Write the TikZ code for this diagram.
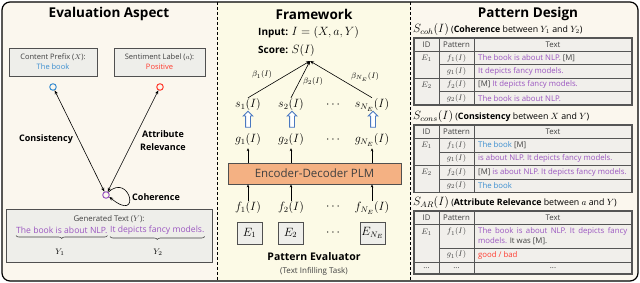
\documentclass[tikz,border=0pt]{standalone}
\usepackage{fontspec}
\setmainfont{Open Sans}
\usetikzlibrary{arrows.meta,shapes.arrows,decorations.pathreplacing}
\definecolor{panelbg}{HTML}{FBF7EE}
\definecolor{midbg}{HTML}{FCFAE6}
\definecolor{boxfill}{HTML}{EEEEEA}
\definecolor{boxline}{HTML}{505050}
\definecolor{tabfill}{HTML}{F1EFEB}
\definecolor{tabline}{HTML}{555555}
\definecolor{cpurple}{HTML}{9A55C0}
\definecolor{cblue}{HTML}{3B8ED0}
\definecolor{cred}{HTML}{FF3B2F}
\definecolor{corange}{HTML}{F4B183}
\definecolor{ctext}{HTML}{404040}
\definecolor{harrowc}{HTML}{4A78C0}
\begin{document}
\begin{tikzpicture}[x=1pt,y=-1pt,
  title/.style={font=\fontsize{13.5}{15}\selectfont\bfseries, inner sep=0},
  lbl/.style={font=\fontsize{9}{13}\selectfont\bfseries, inner sep=0, align=center},
  gbox/.style={draw=boxline, fill=boxfill, line width=0.8pt, inner sep=0, minimum width=88, minimum height=28, align=center, font=\fontsize{7.5}{10}\selectfont, text=ctext},
  dotc/.style={circle, line width=1pt, minimum size=6.5, inner sep=0},
  conn/.style={line width=0.6pt, {Stealth[length=4pt,width=3.2pt]}-{Stealth[length=4pt,width=3.2pt]}},
  oneway/.style={line width=0.6pt, -{Stealth[length=4pt,width=3.2pt]}},
  sarrow/.style={line width=0.6pt, -{Stealth[length=3pt,width=2.6pt]}},
  mathn/.style={font=\fontsize{12}{14}\selectfont, inner sep=1pt},
  betan/.style={font=\fontsize{8}{9}\selectfont, inner sep=0},
  harrow/.style={single arrow, shape border rotate=90, draw=harrowc, fill=white, line width=0.8pt, minimum height=16pt, inner sep=2pt, single arrow head extend=2.4pt, single arrow head indent=0pt},
  ebox/.style={draw=boxline, fill=boxfill, line width=0.8pt, minimum width=25, minimum height=22, inner sep=0, font=\fontsize{12}{14}\selectfont},
  cell/.style={font=\fontsize{7.8}{8}\selectfont, inner sep=0, text=ctext},
  mcell/.style={font=\fontsize{8.5}{9}\selectfont, inner sep=0, text=ctext},
  tline/.style={draw=tabline, line width=0.7pt},
  tframe/.style={draw=tabline, line width=1.1pt},
  subt/.style={anchor=west, inner sep=0, font=\fontsize{8.8}{9}\selectfont}
]
\useasboundingbox (0,0) rectangle (640,283);
% panels
\fill[panelbg, rounded corners=8] (2,2) rectangle (638,281);
\fill[midbg] (217,2) rectangle (410,281);
\draw[line width=1.2pt, rounded corners=8] (2,2) rectangle (638,281);
\draw[line width=0.9pt, dash pattern=on 3pt off 2pt] (217,2) -- (217,281);
\draw[line width=0.9pt, dash pattern=on 3pt off 2pt] (410,2) -- (410,281);

% ===== Left panel =====
\node[title] (t1) at (109,14) {Evaluation Aspect};
\node[gbox] (cp) at (53,62) {Content Prefix ($X$):\\\textcolor{cblue}{The book}};
\node[gbox, minimum width=91] (sl) at (159.5,62) {Sentiment Label ($a$):\\\textcolor{cred}{Positive}};
\node[dotc, draw=cblue] (bc) at (53,87) {};
\node[dotc, draw=cred] (rc) at (160,87) {};
\node[dotc, draw=cpurple] (pc) at (106,195) {};
\draw[conn] (pc) -- (bc);
\draw[conn] (pc) -- (rc);
\draw[oneway] (pc.50) .. controls (130,172) and (142,224) .. (pc.-30);
\node[lbl] (lc) at (46,139) {Consistency};
\node[lbl] (lar) at (163,140.5) {Attribute\\Relevance};
\node[lbl, anchor=west] (lco) at (132,197) {Coherence};
\node[draw=boxline, fill=boxfill, line width=0.8pt, minimum width=206, minimum height=53, inner sep=0] (gt) at (109,235.5) {};
\node[font=\fontsize{7.8}{9}\selectfont, text=ctext, inner sep=0] (gtl) at (109,219) {Generated Text ($Y$):};
\node[font=\fontsize{8.6}{9}\selectfont, text=cpurple, inner sep=0, anchor=east] (y1t) at (107.5,230) {The book is about NLP.};
\node[font=\fontsize{8.6}{9}\selectfont, text=cpurple, inner sep=0, anchor=west] (y2t) at (110,230) {It depicts fancy models.};
\draw[decorate, decoration={brace, mirror, amplitude=3pt}, line width=0.6pt, draw=ctext] ([yshift=-2pt]y1t.south west) -- ([yshift=-2pt]y1t.south east);
\draw[decorate, decoration={brace, mirror, amplitude=3pt}, line width=0.6pt, draw=ctext] ([yshift=-2pt]y2t.south west) -- ([yshift=-2pt]y2t.south east);
\node[font=\fontsize{8.5}{9}\selectfont, inner sep=0] (yy1) at (60,252) {$Y_1$};
\node[font=\fontsize{8.5}{9}\selectfont, inner sep=0] (yy2) at (158,252) {$Y_2$};

% ===== Middle panel =====
\node[title] (t2) at (314,14) {Framework};
\node[anchor=west, inner sep=0, font=\fontsize{10}{12}\selectfont] (inp) at (258,33) {\textbf{Input:} {\fontsize{11.5}{12}\selectfont$I=(X,a,Y)$}};
\node[anchor=west, inner sep=0, font=\fontsize{10}{12}\selectfont] (sc) at (258,51) {\textbf{Score:} {\fontsize{11.5}{12}\selectfont$S(I)$}};
\coordinate (apex) at (310,61);
\node[mathn] (s1) at (248,105) {$s_1(I)$};
\node[mathn] (s2) at (291,105) {$s_2(I)$};
\node[mathn] (sd) at (333,105) {$\cdots$};
\node[mathn] (sn) at (372,105) {$s_{N_E}(I)$};
\draw[oneway] (s1.north) -- (apex);
\draw[oneway] (s2.north) -- (apex);
\draw[oneway] (sn.north) -- (apex);
\node[betan] (b1) at (262,75) {$\beta_1(I)$};
\node[betan] (b2) at (313,81.5) {$\beta_2(I)$};
\node[betan] (bn) at (365,77) {$\beta_{N_E}(I)$};
\node[harrow] (h1) at (248,120.5) {};
\node[harrow] (h2) at (292,120.5) {};
\node[harrow] (hn) at (373,120.5) {};
\node[mathn] (g1) at (248,140) {$g_1(I)$};
\node[mathn] (g2) at (291,140) {$g_2(I)$};
\node[mathn] (gd) at (333,140) {$\cdots$};
\node[mathn] (gn) at (372,140) {$g_{N_E}(I)$};
\node[draw=boxline, fill=corange, line width=0.8pt, minimum width=173, minimum height=21, inner sep=0, font=\fontsize{11.5}{13}\selectfont, text=ctext] (plm) at (314.5,173.5) {Encoder-Decoder PLM};
\draw[sarrow] (g1 |- plm.north) -- ([yshift=-1pt]g1.south);
\draw[sarrow] (g2 |- plm.north) -- ([yshift=-1pt]g2.south);
\draw[sarrow] (gn |- plm.north) -- ([yshift=-1pt]gn.south);
\node[mathn] (f1) at (248,208) {$f_1(I)$};
\node[mathn] (f2) at (291,208) {$f_2(I)$};
\node[mathn] (fd) at (333,207) {$\cdots$};
\node[mathn] (fn) at (372,208) {$f_{N_E}(I)$};
\draw[sarrow] (f1.north) -- (f1 |- plm.south);
\draw[sarrow] (f2.north) -- (f2 |- plm.south);
\draw[sarrow] (fn.north) -- (fn |- plm.south);
\node[ebox] (e1) at (249.5,233) {$E_1$};
\node[ebox] (e2) at (290.5,233) {$E_2$};
\node[mathn] (ed) at (333,233) {$\cdots$};
\node[ebox] (en) at (372.5,233) {$E_{N_E}$};
\node[inner sep=0, font=\fontsize{10.5}{12}\selectfont\bfseries] (pe) at (314,257) {Pattern Evaluator};
\node[inner sep=0, font=\fontsize{8}{10}\selectfont, text=ctext] (tit) at (314,271) {(Text Infilling Task)};

% ===== Right panel =====
\node[title] (t3) at (528,14) {Pattern Design};
% subtitle 1
\node[subt] (st1) at (413,30) {{\fontsize{12}{12}\selectfont$S_{coh}(I)$} (\textbf{Coherence} between $Y_1$ and $Y_2$)};
% table 1
\fill[tabfill] (414,38) rectangle (632,105);
\draw[tline] (414,51.4) -- (632,51.4);
\draw[tline] (439,64.8) -- (632,64.8);
\draw[tline] (414,78.2) -- (632,78.2);
\draw[tline] (439,91.6) -- (632,91.6);
\draw[tline] (439,38) -- (439,105);
\draw[tline] (474,38) -- (474,105);
\draw[tframe] (414,38) rectangle (632,105);
\node[cell] (a0) at (426.5,44.7) {ID};
\node[cell] (a1) at (456.5,44.7) {Pattern};
\node[cell] (a2) at (553,44.7) {Text};
\node[mcell] (ae1) at (426.5,58.1) {$E_1$};
\node[mcell] (ae2) at (426.5,84.9) {$E_2$};
\node[mcell] (af1) at (456.5,58.1) {$f_1(I)$};
\node[mcell] (ag1) at (456.5,71.5) {$g_1(I)$};
\node[mcell] (af2) at (456.5,84.9) {$f_2(I)$};
\node[mcell] (ag2) at (456.5,98.3) {$g_2(I)$};
\node[cell, anchor=west] (at1) at (478,58.1) {\textcolor{cpurple}{The book is about NLP.} [M]};
\node[cell, anchor=west] (at2) at (478,71.5) {\textcolor{cpurple}{It depicts fancy models.}};
\node[cell, anchor=west] (at3) at (478,84.9) {[M] \textcolor{cpurple}{It depicts fancy models.}};
\node[cell, anchor=west] (at4) at (478,98.3) {\textcolor{cpurple}{The book is about NLP.}};
% subtitle 2
\node[subt] (st2) at (413,117) {{\fontsize{12}{12}\selectfont$S_{cons}(I)$} (\textbf{Consistency} between $X$ and $Y$)};
% table 2
\fill[tabfill] (414,125) rectangle (632,192.5);
\draw[tline] (414,138.5) -- (632,138.5);
\draw[tline] (439,152) -- (632,152);
\draw[tline] (414,165.5) -- (632,165.5);
\draw[tline] (439,179) -- (632,179);
\draw[tline] (439,125) -- (439,192.5);
\draw[tline] (474,125) -- (474,192.5);
\draw[tframe] (414,125) rectangle (632,192.5);
\node[cell] (b0) at (426.5,131.7) {ID};
\node[cell] (bb1) at (456.5,131.7) {Pattern};
\node[cell] (bb2) at (553,131.7) {Text};
\node[mcell] (be1) at (426.5,145.2) {$E_1$};
\node[mcell] (be2) at (426.5,172.2) {$E_2$};
\node[mcell] (bf1) at (456.5,145.2) {$f_1(I)$};
\node[mcell] (bg1) at (456.5,158.7) {$g_1(I)$};
\node[mcell] (bf2) at (456.5,172.2) {$f_2(I)$};
\node[mcell] (bg2) at (456.5,185.7) {$g_2(I)$};
\node[cell, anchor=west] (bt1) at (478,145.2) {\textcolor{cblue}{The book} [M]};
\node[cell, anchor=west] (bt2) at (478,158.7) {\textcolor{cpurple}{is about NLP. It depicts fancy models.}};
\node[cell, anchor=west] (bt3) at (478,172.2) {[M] \textcolor{cpurple}{is about NLP. It depicts fancy models.}};
\node[cell, anchor=west] (bt4) at (478,185.7) {\textcolor{cblue}{The book}};
% subtitle 3
\node[subt] (st3) at (413,203) {{\fontsize{12}{12}\selectfont$S_{AR}(I)$} (\textbf{Attribute Relevance} between $a$ and $Y$)};
% table 3
\fill[tabfill] (414,211) rectangle (632,274);
\draw[tline] (414,224) -- (632,224);
\draw[tline] (439,248) -- (632,248);
\draw[tline] (414,262) -- (632,262);
\draw[tline] (439,211) -- (439,274);
\draw[tline] (474,211) -- (474,274);
\draw[tframe] (414,211) rectangle (632,274);
\node[cell] (c0) at (426.5,217.5) {ID};
\node[cell] (cc1) at (456.5,217.5) {Pattern};
\node[cell] (cc2) at (553,217.5) {Text};
\node[mcell] (ce1) at (426.5,232) {$E_1$};
\node[mcell] (cf1) at (456.5,232) {$f_1(I)$};
\node[mcell] (cg1) at (456.5,255) {$g_1(I)$};
\node[cell, anchor=north west, text width=149pt, align=justify, font=\fontsize{7.8}{10}\selectfont] (ct1) at (478,227.5) {\textcolor{cpurple}{The book is about NLP. It depicts fancy}\linebreak\textcolor{cpurple}{models.} It was [M].};
\node[cell, anchor=west] (ct2) at (478,255) {\textcolor{cred}{good / bad}};
\node[cell] (cd0) at (426.5,268) {...};
\node[cell] (cd1) at (456.5,268) {...};
\node[cell] (cd2) at (553,268) {...};
\end{tikzpicture}
\end{document}
